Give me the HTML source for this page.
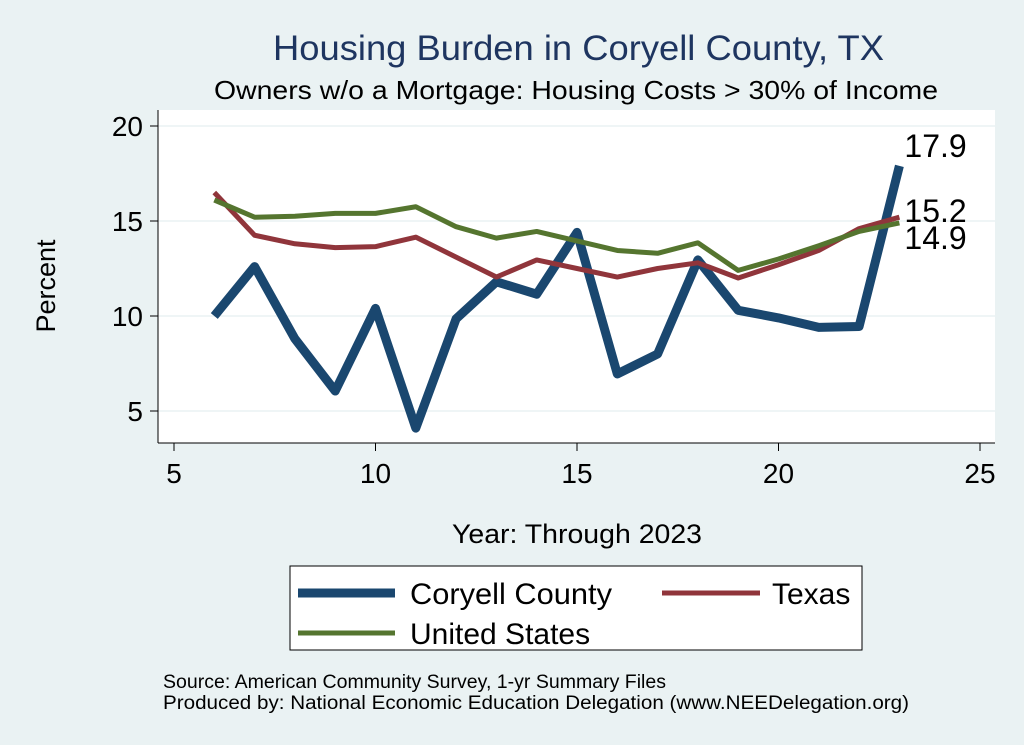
<!DOCTYPE html>
<html><head><meta charset="utf-8"><style>
body{margin:0;background:#eaf2f3;}
svg{display:block;font-family:"Liberation Sans",sans-serif;}
</style></head><body>
<svg id="c" width="1024" height="745">
<rect width="1024" height="745" fill="#eaf2f3"/>
<rect x="158" y="110" width="837" height="333" fill="#fff"/>
<text x="273" y="60" textLength="611" lengthAdjust="spacingAndGlyphs" font-size="35" fill="#1e3560">Housing Burden in Coryell County, TX</text>
<text x="214" y="99" textLength="724" lengthAdjust="spacingAndGlyphs" font-size="26" fill="#000">Owners w/o a Mortgage: Housing Costs &gt; 30% of Income</text>
<text x="452" y="543" textLength="250" lengthAdjust="spacingAndGlyphs" font-size="27">Year: Through 2023</text>
<text transform="translate(55,286) rotate(-90)" text-anchor="middle" font-size="27">Percent</text>
<g id="grid"></g><g id="axes"></g><g id="series"></g>
<rect x="290" y="566" width="572" height="84" fill="#fff" stroke="#000" stroke-width="1"/>
<g><line x1="298" y1="593" x2="395" y2="593" stroke="#1a476f" stroke-width="9"/><text x="410" y="604" textLength="202" lengthAdjust="spacingAndGlyphs" font-size="30">Coryell County</text></g>
<g><line x1="662" y1="593" x2="760" y2="593" stroke="#90353b" stroke-width="5"/><text x="772" y="604" font-size="30">Texas</text></g>
<g><line x1="298" y1="633" x2="395" y2="633" stroke="#55752f" stroke-width="5"/><text x="410" y="644" font-size="30">United States</text></g>
<text x="163" y="688" textLength="503" lengthAdjust="spacingAndGlyphs" font-size="19">Source: American Community Survey, 1-yr Summary Files</text>
<text x="163" y="709" textLength="746" lengthAdjust="spacingAndGlyphs" font-size="19">Produced by: National Economic Education Delegation (www.NEEDelegation.org)</text>
</svg>
<script>
const years=[6,7,8,9,10,11,12,13,14,15,16,17,18,19,20,21,22,23];
const coryell=[10,12.6,8.8,6.05,10.4,4.1,9.85,11.8,11.15,14.4,6.95,8,12.95,10.3,9.9,9.4,9.45,17.9];
const texas=[16.5,14.25,13.8,13.6,13.65,14.15,13.1,12.05,12.95,12.5,12.05,12.5,12.8,12.0,12.7,13.45,14.6,15.2];
const us=[16.1,15.2,15.25,15.4,15.4,15.75,14.7,14.1,14.45,13.95,13.45,13.3,13.85,12.4,13.0,13.7,14.45,14.9];
const xTicks=[5,10,15,20,25];
const yTicks=[5,10,15,20];
const endLabels=["17.9","15.2","14.9"];
const NS="http://www.w3.org/2000/svg";
const X=v=>174+(v-5)*40.3, Y=v=>411-(v-5)*19;
function mk(t,a,p){const e=document.createElementNS(NS,t);for(const k in a)e.setAttribute(k,a[k]);p.appendChild(e);return e;}
const grid=document.getElementById('grid'),axes=document.getElementById('axes'),ser=document.getElementById('series');
mk('line',{x1:158,y1:443,x2:995,y2:443,stroke:'#000'},axes);
mk('line',{x1:158,y1:110,x2:158,y2:443,stroke:'#000'},axes);
yTicks.forEach(t=>{
 const g=mk('line',{x1:158,x2:995,y1:Y(t),y2:Y(t),stroke:'#eaf2f3','stroke-width':1.5},grid);
 
 mk('line',{x1:150,x2:158,y1:Y(t),y2:Y(t),stroke:'#000'},axes);
 const tx=mk('text',{x:143,y:Y(t)+10,'text-anchor':'end','font-size':28},axes);tx.textContent=t;
 
});
xTicks.forEach(t=>{
 mk('line',{x1:X(t),x2:X(t),y1:443,y2:451,stroke:'#000'},axes);
 const tx=mk('text',{x:X(t),y:483,'text-anchor':'middle','font-size':28},axes);tx.textContent=t;
 
});
function line(d,c,w,n){const p=mk('polyline',{points:years.map((y,i)=>X(y)+','+Y(d[i])).join(' '),fill:'none',stroke:c,'stroke-width':w,'stroke-linejoin':'round'},ser);
 }
line(coryell,'#1a476f',9,'coryell-line');
line(texas,'#90353b',5,'texas-line');
line(us,'#55752f',5,'us-line');
const last=years.length-1;
[[coryell,-9],[texas,5],[us,26]].forEach((s,i)=>{
 const tx=mk('text',{x:X(years[last])+5,y:Y(s[0][last])+s[1],'font-size':32},ser);
 tx.textContent=endLabels[i];
 
});
</script>
</body></html>
